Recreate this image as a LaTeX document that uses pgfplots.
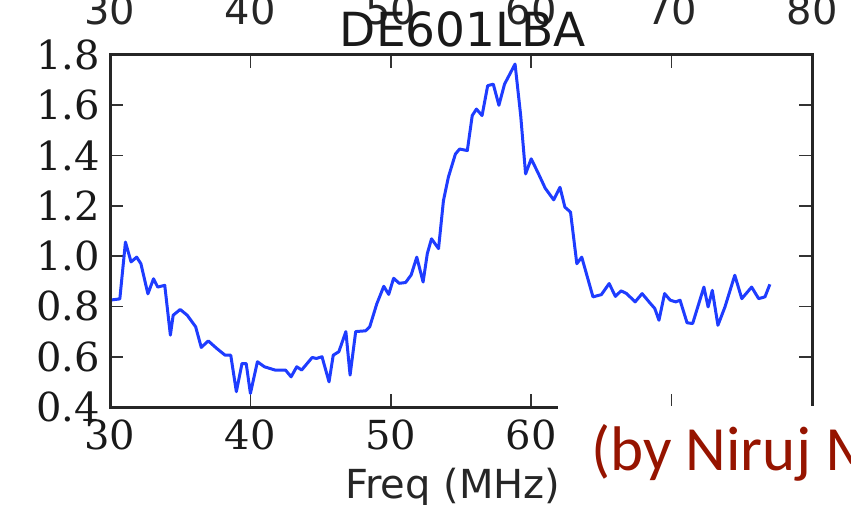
\documentclass[border=0pt]{standalone}
\usepackage{pgfplots}
\pgfplotsset{compat=1.18}
\usepackage{fontspec}
\setmainfont{DejaVu Sans}
\newfontfamily\djserif{DejaVu Serif}
\newfontfamily\djsans{DejaVu Sans}
\newfontfamily\carlito{Carlito}
\definecolor{lineblue}{RGB}{30,60,255}
\definecolor{niruj}{RGB}{150,20,0}
\begin{document}
\begin{tikzpicture}
\path[use as bounding box] (0pt,0pt) rectangle (851pt,-505pt);
\begin{axis}[
  at={(110pt,-407pt)}, anchor=south west,
  scale only axis, width=702pt, height=352pt,
  xmin=30, xmax=80, ymin=0.4, ymax=1.8,
  xtick={30,40,50,60,70,80},
  ytick={0.4,0.6,0.8,1.0,1.2,1.4,1.6,1.8},
  tick align=inside,
  major tick length=13pt,
  axis line style={draw=none},
  every tick/.style={black!80, line width=1.6pt},
  tick label style={font=\djserif\fontsize{40}{48}\selectfont, text=black!90, inner sep=0pt},
  /pgf/number format/assume math mode=true,
  xticklabel style={yshift=-13pt},
  yticklabel style={xshift=-10pt, /pgf/number format/.cd, fixed, fixed zerofill, precision=1},
  scaled y ticks=false,
  clip=false,
]
\addplot[line width=3pt, color=lineblue, line join=round] coordinates {
(30.0,0.825) (30.7,0.83) (31.1,1.056) (31.5,0.977) (31.9,0.996) (32.2,0.97)
(32.7,0.85) (33.1,0.91) (33.4,0.877) (33.9,0.884) (34.3,0.686) (34.5,0.765)
(35.0,0.788) (35.5,0.765) (36.1,0.719) (36.5,0.637) (37.0,0.663) (37.6,0.633)
(38.2,0.606) (38.6,0.606) (39.0,0.461) (39.4,0.573) (39.7,0.573) (40.0,0.454)
(40.5,0.58) (41.0,0.56) (41.75,0.547) (42.5,0.547) (42.9,0.52) (43.3,0.56)
(43.65,0.547) (44.4,0.597) (44.7,0.593) (45.1,0.60) (45.6,0.50) (45.9,0.606)
(46.3,0.62) (46.8,0.70) (47.1,0.527) (47.5,0.70) (48.2,0.703) (48.5,0.719)
(49.0,0.81) (49.5,0.88) (49.85,0.848) (50.2,0.912) (50.6,0.892) (51.05,0.895)
(51.45,0.925) (51.85,0.996) (52.3,0.897) (52.6,1.01) (52.9,1.069) (53.4,1.03)
(53.75,1.221) (54.1,1.314) (54.6,1.406) (54.9,1.426) (55.45,1.42) (55.8,1.559)
(56.1,1.585) (56.5,1.559) (56.9,1.678) (57.3,1.684) (57.7,1.60) (58.1,1.684)
(58.85,1.764) (59.25,1.56) (59.6,1.327) (60.0,1.387) (60.5,1.33) (61.0,1.27)
(61.6,1.224) (62.05,1.274) (62.4,1.195) (62.8,1.175) (63.25,0.97) (63.6,0.996)
(64.4,0.838) (65.0,0.847) (65.55,0.891) (66.0,0.84) (66.4,0.862) (66.8,0.851)
(67.4,0.818) (67.9,0.851) (68.5,0.811) (68.8,0.792) (69.1,0.745) (69.5,0.851)
(69.9,0.825) (70.3,0.818) (70.6,0.825) (71.1,0.735) (71.5,0.732) (72.3,0.877)
(72.6,0.798) (72.9,0.864) (73.3,0.725) (73.8,0.798) (74.5,0.924) (75.0,0.831)
(75.7,0.877) (76.2,0.831) (76.65,0.838) (77.0,0.888)
};
\draw[line width=3pt, black!85] (rel axis cs:0,0) rectangle (rel axis cs:1,1);
\end{axis}
% top tick labels of the panel above (cut off)
\foreach \lab/\px in {30/110,40/250.4,50/390.8,60/531.2,70/671.6,80/812} {
  \node[anchor=base, inner sep=0pt, font=\djsans\fontsize{40}{48}\selectfont, text=black!85] at (\px pt,-25pt) {\lab};
}
% title
\node[anchor=base, inner sep=0pt, font=\djsans\fontsize{47}{56}\selectfont, text=black!90] at (463pt,-47pt) {DE601LBA};
% x label
\node[anchor=base west, inner sep=0pt, font=\djsans\fontsize{40}{48}\selectfont, text=black!85] at (345pt,-498pt) {Freq (MHz)};
% overlay box and credit
\fill[white] (558pt,-406pt) rectangle (860pt,-510pt);
\node[anchor=base west, inner sep=0pt, font=\carlito\fontsize{63}{75}\selectfont, text=niruj] at (591pt,-470pt) {(by Niruj Mohan Ramanujam)};
\end{tikzpicture}
\end{document}
